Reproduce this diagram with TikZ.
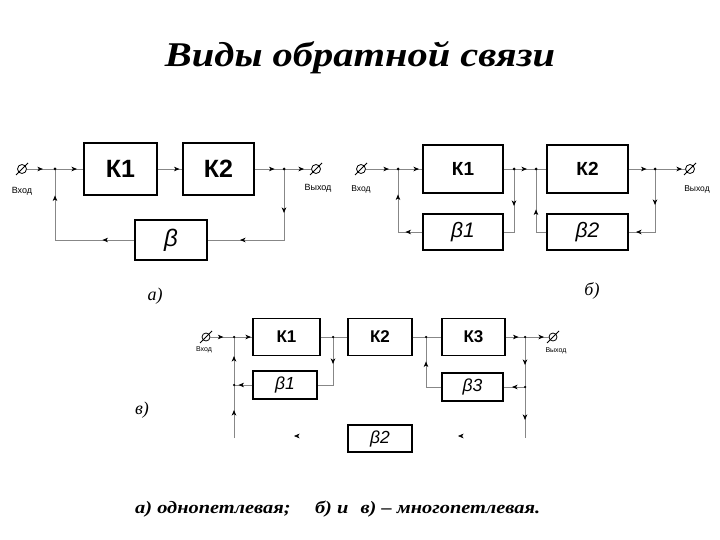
\documentclass[tikz,border=0pt]{standalone}
\usepackage{fontspec}
\setmainfont{Liberation Serif}
\newfontfamily\blocksans{Liberation Sans}
\usetikzlibrary{arrows.meta,decorations.markings}
\definecolor{linegray}{RGB}{135,135,135}
\tikzset{
  ln/.style={draw=linegray, line width=0.9pt},
  tipat/.style={postaction={decorate, decoration={markings,
      mark=at position #1 with {\arrow{Stealth[length=5.5pt,width=4.5pt,inset=1.5pt,color=black]}}}}},
  blk/.style={draw=black, line width=1.1pt, rectangle, inner sep=0pt},
  term/.style={circle, draw=black, line width=0.8pt, minimum size=9pt, inner sep=0pt},
  jdot/.style={circle, fill=black, minimum size=3pt, inner sep=0pt},
  smalltxt/.style={font=\blocksans\fontsize{#1}{#1}\selectfont, inner sep=0pt},
  kA/.style={font=\blocksans\bfseries\fontsize{25}{25}\selectfont},
  kB/.style={font=\blocksans\bfseries\fontsize{19}{19}\selectfont},
  kC/.style={font=\blocksans\bfseries\fontsize{17}{17}\selectfont},
  bA/.style={font=\blocksans\itshape\fontsize{24}{24}\selectfont},
  bB/.style={font=\blocksans\itshape\fontsize{21}{21}\selectfont},
  bC/.style={font=\blocksans\itshape\fontsize{17.5}{17.5}\selectfont},
  lab/.style={font=\itshape\fontsize{18}{18}\selectfont, inner sep=0pt},
}
\newcommand{\termslash}[1]{\draw[black, line width=0.8pt] ([shift={(-6,6)}]#1.center) -- ([shift={(6,-6)}]#1.center);}
\begin{document}
\begin{tikzpicture}[x=1pt,y=-1pt]
\useasboundingbox (0,0) rectangle (720,540);
\fill[white] (0,0) rectangle (720,540);

% Title
\node[inner sep=0pt, anchor=base] (title) at (360,67)
  {\resizebox{390pt}{25pt}{\bfseries\itshape Виды обратной связи}};

% ================= a) =================
\node[term] (ain) at (22,169) {};
\termslash{ain}
\coordinate (aj1) at (55,169);
\node[blk, kA, minimum width=73pt, minimum height=52pt] (K1a) at (120.5,169) {К1};
\node[blk, kA, minimum width=71pt, minimum height=52pt] (K2a) at (218.5,169) {К2};
\coordinate (aj2) at (284,169);
\node[term] (aout) at (316,169) {};
\termslash{aout}
\node[blk, bA, minimum width=72pt, minimum height=40pt] (Ba) at (171,240) {β};
\node[smalltxt=9] (ainl) at (22,191) {Вход};
\node[smalltxt=9] (aoutl) at (318,188) {Выход};

\draw[ln, tipat=16pt] (ain) -- (aj1);
\draw[ln, tipat=22pt] (aj1) -- (K1a.west);
\draw[ln, tipat=22pt] (K1a.east) -- (K2a.west);
\draw[ln, tipat=20pt] (K2a.east) -- (aj2);
\draw[ln, tipat=20pt] (aj2) -- (aout);
\draw[ln, tipat=44pt, tipat=115pt] (aj2) |- (Ba.east);
\draw[ln, tipat=32pt, tipat=124pt] (Ba.west) -| (aj1);
\node[jdot] at (aj1) {};
\node[jdot] at (aj2) {};

% ================= b) =================
\node[term] (bin) at (361,169) {};
\termslash{bin}
\coordinate (bj1) at (398,169);
\node[blk, kB, minimum width=80pt, minimum height=48pt] (K1b) at (463,169) {К1};
\coordinate (bj2) at (514,169);
\coordinate (bj3) at (536,169);
\node[blk, kB, minimum width=81pt, minimum height=48pt] (K2b) at (587.5,169) {К2};
\coordinate (bj4) at (655,169);
\node[term] (bout) at (690,169) {};
\termslash{bout}
\node[blk, bB, minimum width=80pt, minimum height=36pt] (B1b) at (463,232) {β1};
\node[blk, bB, minimum width=81pt, minimum height=36pt] (B2b) at (587.5,232) {β2};
\node[smalltxt=8.5] (binl) at (361,189) {Вход};
\node[smalltxt=8.5] (boutl) at (697,189) {Выход};

\draw[ln, tipat=23pt] (bin) -- (bj1);
\draw[ln, tipat=21pt] (bj1) -- (K1b.west);
\draw[ln] (K1b.east) -- (bj2);
\draw[ln, tipat=13pt] (bj2) -- (bj3);
\draw[ln] (bj3) -- (K2b.west);
\draw[ln, tipat=18pt] (K2b.east) -- (bj4);
\draw[ln, tipat=27pt] (bj4) -- (bout);
\draw[ln, tipat=37pt] (bj2) |- (B1b.east);
\draw[ln, tipat=17pt, tipat=62pt] (B1b.west) -| (bj1);
\draw[ln, tipat=36pt, tipat=82pt] (bj4) |- (B2b.east);
\draw[ln, tipat=33pt] (B2b.west) -| (bj3);
\foreach \j in {bj1,bj2,bj3,bj4} \node[jdot] at (\j) {};

% ================= c) =================
\node[term, minimum size=8pt] (cin) at (206,337) {};
\termslash{cin}
\coordinate (cj1) at (234,337);
\node[blk, kC, minimum width=67pt, minimum height=37pt] (K1c) at (286.5,337) {К1};
\coordinate (cj2) at (333,337);
\node[blk, kC, minimum width=64pt, minimum height=37pt] (K2c) at (380,337) {К2};
\coordinate (cj3) at (426,337);
\node[blk, kC, minimum width=63pt, minimum height=37pt] (K3c) at (473.5,337) {К3};
\coordinate (cj4) at (525,337);
\node[term, minimum size=8pt] (cout) at (553,337) {};
\termslash{cout}
\node[blk, bC, minimum width=64pt, minimum height=28pt] (B1c) at (285,385) {β1};
\node[blk, bC, minimum width=61pt, minimum height=28pt] (B3c) at (472.5,387) {β3};
\node[blk, bC, minimum width=64pt, minimum height=27pt] (B2c) at (380,438.5) {β2};
\coordinate (cj5) at (234,385);
\coordinate (cj6) at (525,387);
\coordinate (cb1) at (234,438);
\coordinate (cb2) at (525,438);
\coordinate (cs1a) at (298,436);
\coordinate (cs1b) at (294,436);
\coordinate (cs2a) at (462,436);
\coordinate (cs2b) at (458,436);
\node[smalltxt=7] (cinl) at (204,350) {Вход};
\node[smalltxt=7] (coutl) at (556,351) {Выход};

\draw[ln, tipat=13pt] (cin) -- (cj1);
\draw[ln, tipat=17pt] (cj1) -- (K1c.west);
\draw[ln] (K1c.east) -- (cj2);
\draw[ln] (cj2) -- (K2c.west);
\draw[ln] (K2c.east) -- (cj3);
\draw[ln] (cj3) -- (K3c.west);
\draw[ln, tipat=13pt] (K3c.east) -- (cj4);
\draw[ln, tipat=19pt] (cj4) -- (cout);
\draw[ln, tipat=27pt] (cj2) |- (B1c.east);
\draw[ln, tipat=14pt] (B1c.west) -- (cj5);
\draw[ln, tipat=28pt, tipat=82pt] (cb1) -- (cj1);
\draw[ln, tipat=41pt] (B3c.west) -| (cj3);
\draw[ln, tipat=28pt, tipat=83pt] (cj4) -- (cb2);
\draw[ln, tipat=13pt] (cj6) -- (B3c.east);
\draw[draw=none, tipat=4pt] (cs1a) -- (cs1b);
\draw[draw=none, tipat=4pt] (cs2a) -- (cs2b);
\foreach \j in {cj1,cj2,cj3,cj4,cj5,cj6} \node[jdot, minimum size=2.5pt] at (\j) {};

% labels
\node[lab] (la) at (155,296) {а)};
\node[lab] (lb) at (592,291) {б)};
\node[lab] (lc) at (142,410) {в)};

% caption
\node[inner sep=0pt, anchor=base west] (cap) at (135,513)
  {\resizebox{405pt}{12.5pt}{\bfseries\itshape а) однопетлевая;\hspace{1.2em}б) и\hspace{0.6em}в) – многопетлевая.}};
\end{tikzpicture}
\end{document}
